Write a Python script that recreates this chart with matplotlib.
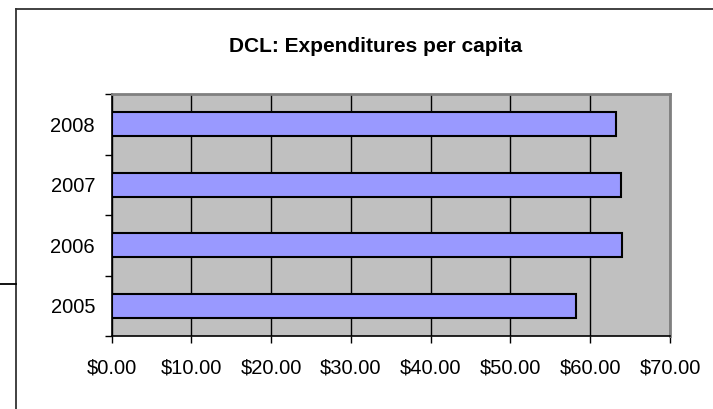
import matplotlib.pyplot as plt
from matplotlib.lines import Line2D

plt.rcParams['font.family'] = ['Liberation Sans', 'DejaVu Sans']

# data
years = ['2005', '2006', '2007', '2008']
spend = [58.2, 64.0, 63.8, 63.2]
xticks = [0, 10, 20, 30, 40, 50, 60, 70]
xlabels = ['$%.2f' % v for v in xticks]

fig = plt.figure(figsize=(7.13, 4.09), dpi=100)
ax = fig.add_axes([0.1567, 0.1785, 0.9397 - 0.1567, 0.770 - 0.1785])
ax.set_facecolor('#C0C0C0')

pos = list(range(len(years)))
ax.barh(pos, spend, height=0.4, color='#9999FF', edgecolor='black',
        linewidth=1.5, zorder=3)

ax.set_xlim(0, 70)
ax.set_ylim(-0.5, 3.5)
ax.set_xticks(xticks)
ax.set_xticklabels(xlabels, fontsize=14.5)
ax.set_yticks(pos)
ax.set_yticklabels(years, fontsize=14.5)
ax.set_yticks([-0.5, 0.5, 1.5, 2.5, 3.5], minor=True)
ax.tick_params(axis='y', which='major', length=0, pad=12)
ax.tick_params(axis='y', which='minor', length=5, width=1, direction='out')
ax.tick_params(axis='x', length=5, width=1, direction='out', pad=11)
ax.xaxis.grid(True, color='black', linewidth=1)
ax.set_axisbelow(True)

for s in ['top', 'right']:
    ax.spines[s].set_color('#808080')
    ax.spines[s].set_linewidth(2)
for s in ['left', 'bottom']:
    ax.spines[s].set_color('black')
    ax.spines[s].set_linewidth(1.2)

fig.text(0.527, 0.886, 'DCL: Expenditures per capita', ha='center',
         va='center', fontsize=15, fontweight='bold')

# outer chart frame
fig.add_artist(Line2D([15.5 / 713, 15.5 / 713], [0, 1 - 8.7 / 409],
                      color='#333333', lw=1.3))
fig.add_artist(Line2D([15.5 / 713, 1], [1 - 8.7 / 409, 1 - 8.7 / 409],
                      color='#333333', lw=1.3))
fig.add_artist(Line2D([0, 15.5 / 713], [1 - 284 / 409, 1 - 284 / 409],
                      color='black', lw=1.3))

fig.savefig('out.png', dpi=100)
